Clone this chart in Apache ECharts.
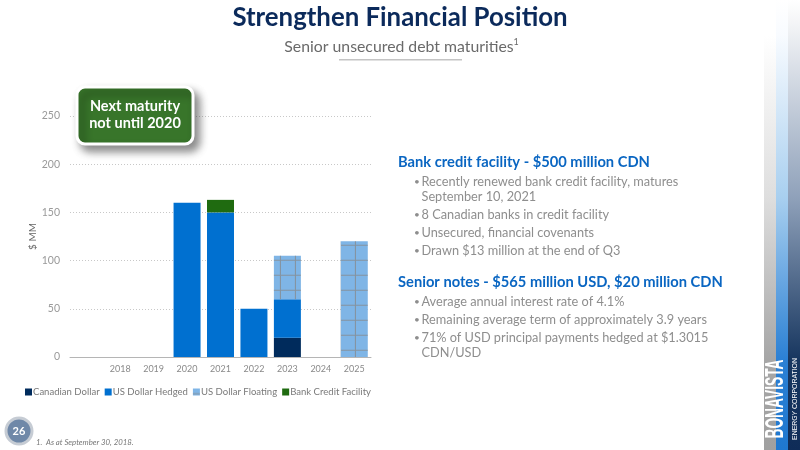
<!DOCTYPE html>
<html><head><meta charset="utf-8">
<style>html,body{margin:0;padding:0;background:#fff}#c{width:800px;height:450px}</style>
<script src="https://cdn.jsdelivr.net/npm/echarts@6/dist/echarts.min.js"></script>
</head><body><div id="c"></div>
<script>
const years = ['', '2018', '2019', '2020', '2021', '2022', '2023', '2024', '2025'];
const canadianDollar = [null, null, null, null, null, null, 20, null, null];
const usHedged = [null, null, null, 160, 150, 50, 40, null, null];
const usFloating = [null, null, null, null, null, null, 45, null, 120];
const bankCredit = [null, null, null, null, 13, null, null, null, null];
const yTicks = { min: 0, max: 250, interval: 50 };
const FONT = 'Lato, "Open Sans", sans-serif';
const bullets1 = [
  ['Recently renewed bank credit facility, matures', 'September 10, 2021'],
  ['8 Canadian banks in credit facility'],
  ['Unsecured, financial covenants'],
  ['Drawn $13 million at the end of Q3']
];
const bullets2 = [
  ['Average annual interest rate of 4.1%'],
  ['Remaining average term of approximately 3.9 years'],
  ['71% of USD principal payments hedged at $1.3015', 'CDN/USD']
];
function txt(x, y, s, size, color, extra) {
  return { type: 'text', x, y, silent: true, z: 20,
    style: Object.assign({ text: s, font: (extra && extra.fw || 'normal') + ' ' + size + 'px ' + FONT, fill: color,
      textAlign: 'left', textVerticalAlign: 'middle' }, extra && extra.style) , rotation: extra && extra.rot || 0};
}
const gfx = [];
function strip(x, w, c) {
  gfx.push({ type: 'rect', silent: true, z: 1, shape: { x, y: 0, width: w, height: 450 },
    style: { fill: new echarts.graphic.LinearGradient(0, 0, 0, 1, c) } });
}
strip(764, 12, [{offset:0,color:'#ffffff'},{offset:0.08,color:'#ffffff'},{offset:0.44,color:'#dedede'},{offset:0.8,color:'#a6a6a6'},{offset:1,color:'#a0a0a0'}]);
strip(776, 12, [{offset:0,color:'#ffffff'},{offset:0.08,color:'#f8fbff'},{offset:0.44,color:'#a8cfef'},{offset:0.8,color:'#2b80d4'},{offset:1,color:'#1f78d0'}]);
strip(788, 12, [{offset:0,color:'#ffffff'},{offset:0.05,color:'#f4f5f7'},{offset:0.44,color:'#8fa1ba'},{offset:0.8,color:'#17365f'},{offset:1,color:'#0f2c58'}]);
gfx.push(txt(400, 18, 'Strengthen Financial Position', 25.8, '#0b2a5b', {fw:'bold', style:{textAlign:'center'}}));
gfx.push(txt(399, 47, 'Senior unsecured debt maturities', 15.8, '#6a6a6a', {style:{textAlign:'center'}}));
gfx.push(txt(513.5, 42, '1', 9, '#6a6a6a'));
gfx.push({type:'rect',silent:true,z:20,shape:{x:339,y:59,width:123,height:1.6},style:{fill:'#c4c4c4'}});
// callout
gfx.push({type:'rect',silent:true,z:30,shape:{x:77,y:87,width:116,height:57,r:8},
  style:{fill:'#38752a',stroke:'#ffffff',lineWidth:3,shadowBlur:8,shadowOffsetX:5,shadowOffsetY:6,shadowColor:'rgba(0,0,0,0.45)'}});
gfx.push(Object.assign(txt(135,106,'Next maturity',14.5,'#ffffff',{fw:'bold',style:{textAlign:'center'}}),{z:31}));
gfx.push(Object.assign(txt(135,123.5,'not until 2020',14.5,'#ffffff',{fw:'bold',style:{textAlign:'center'}}),{z:31}));
// right text
const head='#0a66c2', body='#8e8e8e';
gfx.push(txt(398,162,'Bank credit facility - $500 million CDN',14.7,head,{fw:'bold'}));
let ys=[[182,197],[215],[233],[251]];
bullets1.forEach((b,i)=>{gfx.push(txt(414,ys[i][0],'•',10,body));b.forEach((l,j)=>gfx.push(txt(421.5,ys[i][j],l,12.75,body)));});
gfx.push(txt(398,282,'Senior notes - $565 million USD, $20 million CDN',14.7,head,{fw:'bold'}));
ys=[[302],[320],[338,353]];
bullets2.forEach((b,i)=>{gfx.push(txt(414,ys[i][0],'•',10,body));b.forEach((l,j)=>gfx.push(txt(421.5,ys[i][j],l,12.75,body)));});
// page number & footnote
gfx.push({type:'circle',silent:true,z:20,shape:{cx:19,cy:431,r:13},style:{fill:'#6f88a8',stroke:'#c6ccd4',lineWidth:3}});
gfx.push(txt(19,431,'26',11,'#ffffff',{fw:'bold',style:{textAlign:'center'}}));
gfx.push(txt(36,442,'1.  As at September 30, 2018.',8,'#777777',{style:{font:'italic 7.8px '+FONT}}));
// logo
gfx.push({type:'text',silent:true,z:20,x:776,y:399,rotation:Math.PI/2,scaleX:0.53,
  style:{text:'BONAVISTA',font:'bold 26px "Liberation Sans", sans-serif',fill:'#ffffff',textAlign:'center',textVerticalAlign:'middle'}});
gfx.push({type:'text',silent:true,z:20,x:795,y:399,rotation:Math.PI/2,scaleX:0.92,
  style:{text:'ENERGY CORPORATION',font:'7.5px "Liberation Sans", sans-serif',fill:'#ffffff',textAlign:'center',textVerticalAlign:'middle'}});

const gridDecal = { symbol:'path://M66 0H73V100H66Z M0 31H100V38H0Z', symbolSize:1, symbolKeepAspect:false, color:'rgba(135,135,135,0.75)', dashArrayX:[15,0], dashArrayY:[15,0], rotation:0 };
function bar(name, data, color, decal) {
  return { name, type:'bar', stack:'t', data, barWidth:27, z:3,
    itemStyle:{ color, decal } };
}
const chart = echarts.init(document.getElementById('c'), null, {renderer:'canvas'});
chart.setOption({
  animation:false, backgroundColor:'#ffffff',
  aria:{enabled:false},
  textStyle:{fontFamily:FONT},
  grid:{left:70,right:429,top:116,bottom:93,containLabel:false},
  legend:{ left:20, top:382, itemWidth:7, itemHeight:7, itemGap:5, icon:'rect',
    textStyle:{color:'#7a7a7a',fontSize:9.55,fontFamily:FONT,padding:[0,0,0,-4]},
    data:['Canadian Dollar','US Dollar Hedged','US Dollar Floating','Bank Credit Facility'] },
  xAxis:{ type:'category', data:years, axisTick:{show:false},
    axisLine:{lineStyle:{color:'#b5b5b5',width:1}},
    axisLabel:{color:'#8a8a8a',fontSize:9,margin:8,interval:0} },
  yAxis:{ type:'value', min:yTicks.min, max:yTicks.max, interval:yTicks.interval,
    name:'$ MM', nameLocation:'middle', nameGap:28, nameRotate:90,
    nameTextStyle:{color:'#666',fontSize:10},
    axisLine:{show:false}, axisTick:{show:false},
    axisLabel:{color:'#9a9a9a',fontSize:10.5,margin:10},
    splitLine:{lineStyle:{color:'#c8c8c8',type:[1,2],width:1}} },
  series:[
    bar('Canadian Dollar',canadianDollar,'#002b5c'),
    bar('US Dollar Hedged',usHedged,'#0070d0'),
    bar('US Dollar Floating',usFloating,'#7fb5e6',gridDecal),
    bar('Bank Credit Facility',bankCredit,'#1f6b10')
  ],
  graphic:gfx
});
</script></body></html>
